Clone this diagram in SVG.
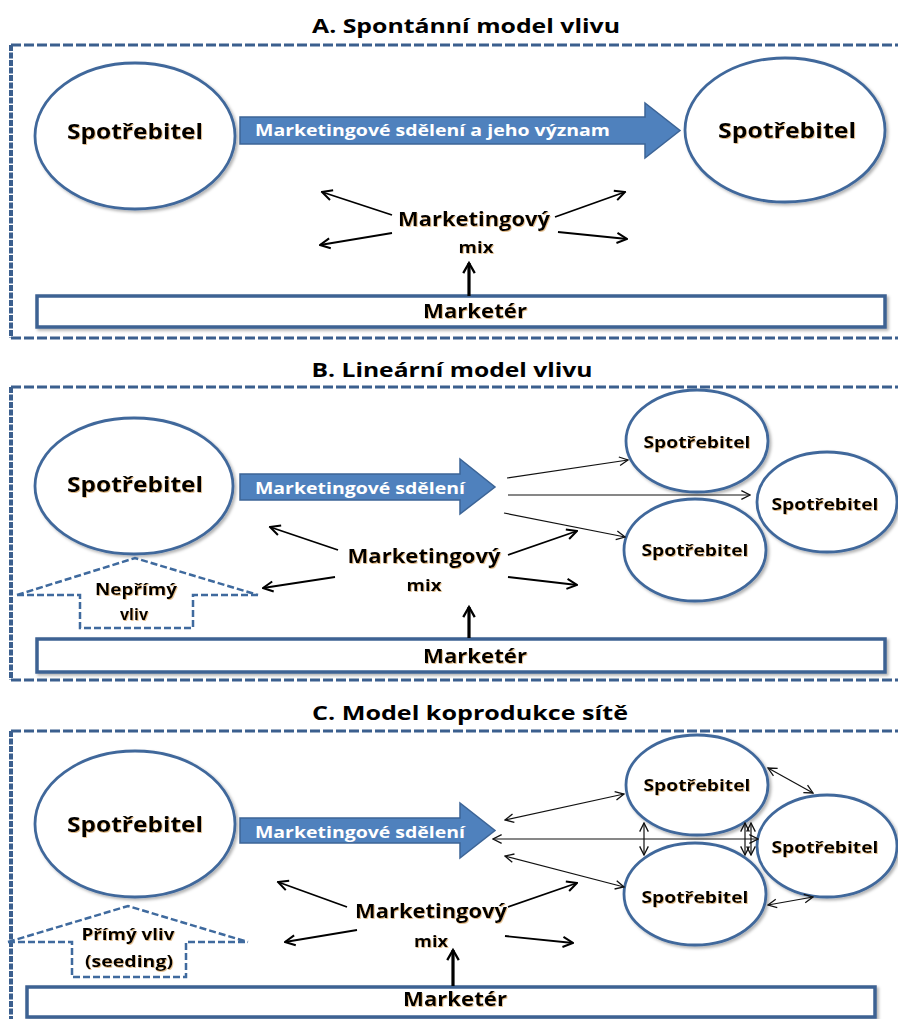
<svg xmlns="http://www.w3.org/2000/svg" width="898" height="1019" viewBox="0 0 898 1019">
  <defs>
    <style>
      text { font-family: "Open Sans", "Liberation Sans", sans-serif; font-weight: bold; fill: #000; text-anchor: middle; }
      .title { font-size: 20px; }
      .big { font-size: 22px; }
      .small { font-size: 16.5px; }
      .mk { font-size: 20px; }
      .mix { font-size: 16px; }
      .mkt { font-size: 19px; }
      .tag { font-size: 16px; }
      .msg { font-size: 16px; fill: #fff; text-anchor: start; }
      .frame { fill: none; stroke: #3b5f8e; }
      .frame-h { stroke-width: 3; stroke-dasharray: 10 3; }
      .frame-v { stroke-width: 4; stroke-dasharray: 6 1.5; }
      .cons { fill: #fff; stroke: #41689b; stroke-width: 2.8; }
      .bar { fill: #fff; stroke: #3d6293; stroke-width: 3.5; }
      .msgarrow { fill: #4f81bd; stroke: #3c6496; stroke-width: 1.5; }
      .house { fill: none; stroke: #3f6a9e; stroke-width: 2.5; stroke-dasharray: 7 3; }
      .ln { fill: none; stroke: #000; stroke-width: 1.8; }
      .thin { fill: none; stroke: #111; stroke-width: 1.2; }
      .thick { fill: none; stroke: #000; stroke-width: 3.2; }
      .lbl { filter: url(#glow); }
    </style>
    <filter id="soft" x="-10%" y="-10%" width="125%" height="130%">
      <feDropShadow dx="2" dy="2" stdDeviation="1.8" flood-color="#000" flood-opacity="0.3"/>
    </filter>
    <filter id="glow" x="-5%" y="-20%" width="110%" height="150%">
      <feDropShadow dx="0.8" dy="1" stdDeviation="0.7" flood-color="#c8862e" flood-opacity="0.55"/>
    </filter>
    <marker id="v" viewBox="0 0 10 10" refX="9" refY="5" markerWidth="7" markerHeight="7" orient="auto-start-reverse" markerUnits="strokeWidth">
      <path d="M1,1 L9,5 L1,9" fill="none" stroke="#000" stroke-width="1.6"/>
    </marker>
    <marker id="vt" viewBox="0 0 10 10" refX="9" refY="5" markerWidth="9" markerHeight="9" orient="auto-start-reverse" markerUnits="strokeWidth">
      <path d="M1,1 L9,5 L1,9" fill="none" stroke="#111" stroke-width="1.2"/>
    </marker>
    <marker id="vb" viewBox="0 0 10 10" refX="8" refY="5" markerWidth="4.5" markerHeight="4.5" orient="auto" markerUnits="strokeWidth">
      <path d="M1,1 L8,5 L1,9" fill="none" stroke="#000" stroke-width="1.6"/>
    </marker>
  </defs>

  <rect width="898" height="1019" fill="#fff"/>

  <!-- ===== A ===== -->
  <g id="panel-a">
    <text class="title" x="466" y="33" textLength="308" lengthAdjust="spacingAndGlyphs">A. Spontánní model vlivu</text>
    <path class="frame frame-h" d="M11,45 H905 M11,338 H905"/>
    <path class="frame frame-v" d="M11,45 V338"/>
  </g>
  <g id="a-consumer-left">
    <ellipse class="cons" cx="135" cy="136" rx="100" ry="73" filter="url(#soft)"/>
    <text class="big lbl" x="135" y="139" textLength="136" lengthAdjust="spacingAndGlyphs">Spotřebitel</text>
  </g>
  <g id="a-consumer-right">
    <ellipse class="cons" cx="785" cy="130" rx="100" ry="72" filter="url(#soft)"/>
    <text class="big lbl" x="787" y="138" textLength="138" lengthAdjust="spacingAndGlyphs">Spotřebitel</text>
  </g>
  <g id="a-message">
    <path class="msgarrow" d="M240,117 H645 V103 L680,130.5 L645,158 V144 H240 Z"/>
    <text class="msg" x="255" y="136" textLength="355" lengthAdjust="spacingAndGlyphs">Marketingové sdělení a jeho význam</text>
  </g>
  <g id="a-mix">
    <text class="mk lbl" x="474" y="226" textLength="152" lengthAdjust="spacingAndGlyphs">Marketingový</text>
    <text class="mix lbl" x="476" y="253" textLength="35" lengthAdjust="spacingAndGlyphs">mix</text>
  </g>
  <g id="a-marketer">
    <rect class="bar" x="37" y="296" width="848" height="31" filter="url(#soft)"/>
    <text class="mkt lbl" x="475" y="318" textLength="104" lengthAdjust="spacingAndGlyphs">Marketér</text>
  </g>

  <!-- ===== B ===== -->
  <g id="panel-b">
    <text class="title" x="452" y="377" textLength="281" lengthAdjust="spacingAndGlyphs">B. Lineární model vlivu</text>
    <path class="frame frame-h" d="M11,387 H905 M11,680 H905"/>
    <path class="frame frame-v" d="M11,387 V680"/>
  </g>
  <g id="b-consumer-left">
    <ellipse class="cons" cx="134" cy="486" rx="99" ry="68" filter="url(#soft)"/>
    <text class="big lbl" x="135" y="492" textLength="136" lengthAdjust="spacingAndGlyphs">Spotřebitel</text>
  </g>
  <g id="b-consumer-1">
    <ellipse class="cons" cx="697" cy="441" rx="71" ry="51" filter="url(#soft)"/>
    <text class="small lbl" x="697" y="448" textLength="107" lengthAdjust="spacingAndGlyphs">Spotřebitel</text>
  </g>
  <g id="b-consumer-2">
    <ellipse class="cons" cx="827" cy="502" rx="70" ry="50" filter="url(#soft)"/>
    <text class="small lbl" x="825" y="510" textLength="107" lengthAdjust="spacingAndGlyphs">Spotřebitel</text>
  </g>
  <g id="b-consumer-3">
    <ellipse class="cons" cx="695" cy="550" rx="71" ry="51" filter="url(#soft)"/>
    <text class="small lbl" x="695" y="556" textLength="107" lengthAdjust="spacingAndGlyphs">Spotřebitel</text>
  </g>
  <g id="b-message">
    <path class="msgarrow" d="M240,474 H460 V459 L495,487 L460,514 V500 H240 Z"/>
    <text class="msg" x="255" y="494" textLength="210" lengthAdjust="spacingAndGlyphs">Marketingové sdělení</text>
  </g>
  <g id="b-influence">
    <path class="house" d="M17,595 L135,558 L258,595 M17,595 H80 V628 H193 V595 H258"/>
    <text class="tag lbl" x="136" y="595" textLength="82" lengthAdjust="spacingAndGlyphs">Nepřímý</text>
    <text class="tag lbl" x="134" y="620">vliv</text>
  </g>
  <g id="b-mix">
    <text class="mk lbl" x="424" y="563" textLength="153" lengthAdjust="spacingAndGlyphs">Marketingový</text>
    <text class="mix lbl" x="424" y="591" textLength="35" lengthAdjust="spacingAndGlyphs">mix</text>
  </g>
  <g id="b-marketer">
    <rect class="bar" x="37" y="639" width="848" height="33" filter="url(#soft)"/>
    <text class="mkt lbl" x="475" y="663" textLength="104" lengthAdjust="spacingAndGlyphs">Marketér</text>
  </g>

  <!-- ===== C ===== -->
  <g id="panel-c">
    <text class="title" x="470" y="720" textLength="316" lengthAdjust="spacingAndGlyphs">C. Model koprodukce sítě</text>
    <path class="frame frame-h" d="M11,731 H905"/>
    <path class="frame frame-v" d="M11,731 V1030"/>
  </g>
  <g id="c-consumer-left">
    <ellipse class="cons" cx="135" cy="824" rx="100" ry="73" filter="url(#soft)"/>
    <text class="big lbl" x="135" y="832" textLength="136" lengthAdjust="spacingAndGlyphs">Spotřebitel</text>
  </g>
  <g id="c-consumer-1">
    <ellipse class="cons" cx="697" cy="785" rx="71" ry="50" filter="url(#soft)"/>
    <text class="small lbl" x="697" y="791" textLength="107" lengthAdjust="spacingAndGlyphs">Spotřebitel</text>
  </g>
  <g id="c-consumer-2">
    <ellipse class="cons" cx="827" cy="846" rx="70" ry="51" filter="url(#soft)"/>
    <text class="small lbl" x="825" y="853" textLength="107" lengthAdjust="spacingAndGlyphs">Spotřebitel</text>
  </g>
  <g id="c-consumer-3">
    <ellipse class="cons" cx="695" cy="894" rx="71" ry="51" filter="url(#soft)"/>
    <text class="small lbl" x="695" y="903" textLength="107" lengthAdjust="spacingAndGlyphs">Spotřebitel</text>
  </g>
  <g id="c-message">
    <path class="msgarrow" d="M240,818 H460 V803 L495,830.5 L460,858 V843 H240 Z"/>
    <text class="msg" x="255" y="838" textLength="210" lengthAdjust="spacingAndGlyphs">Marketingové sdělení</text>
  </g>
  <g id="c-influence">
    <path class="house" d="M8,942 L128,906 L248,942 M8,942 H72 V977 H186 V942 H248"/>
    <text class="tag lbl" x="128" y="940" textLength="93" lengthAdjust="spacingAndGlyphs">Přímý vliv</text>
    <text class="tag lbl" x="129" y="967" textLength="88" lengthAdjust="spacingAndGlyphs">(seeding)</text>
  </g>
  <g id="c-mix">
    <text class="mk lbl" x="431" y="918" textLength="152" lengthAdjust="spacingAndGlyphs">Marketingový</text>
    <text class="mix lbl" x="431" y="947" textLength="34" lengthAdjust="spacingAndGlyphs">mix</text>
  </g>
  <g id="c-marketer">
    <rect class="bar" x="27" y="987" width="848" height="30" filter="url(#soft)"/>
    <text class="mkt lbl" x="455" y="1006" textLength="104" lengthAdjust="spacingAndGlyphs">Marketér</text>
  </g>

  <!-- ===== connectors ===== -->
  <g id="connectors">
    <!-- A: marketing mix -->
    <line class="ln" x1="392" y1="215" x2="322" y2="192" marker-end="url(#v)"/>
    <line class="ln" x1="392" y1="233" x2="320" y2="245" marker-end="url(#v)"/>
    <line class="ln" x1="555" y1="217" x2="625" y2="192" marker-end="url(#v)"/>
    <line class="ln" x1="558" y1="232" x2="627" y2="239" marker-end="url(#v)"/>
    <line class="thick" x1="469" y1="296" x2="469" y2="263" marker-end="url(#vb)"/>

    <!-- B: marketing mix -->
    <line class="ln" x1="338" y1="550" x2="270" y2="527" marker-end="url(#v)"/>
    <line class="ln" x1="335" y1="577" x2="263" y2="588" marker-end="url(#v)"/>
    <line class="ln" x1="508" y1="555" x2="577" y2="531" marker-end="url(#v)"/>
    <line class="ln" x1="508" y1="577" x2="577" y2="585" marker-end="url(#v)"/>
    <line class="thick" x1="469" y1="638" x2="469" y2="607" marker-end="url(#vb)"/>
    <!-- B: message spread -->
    <line class="thin" x1="507" y1="478" x2="628" y2="460" marker-end="url(#vt)"/>
    <line class="thin" x1="508" y1="495" x2="750" y2="495" marker-end="url(#vt)"/>
    <line class="thin" x1="504" y1="513" x2="625" y2="537" marker-end="url(#vt)"/>

    <!-- C: marketing mix -->
    <line class="ln" x1="347" y1="907" x2="278" y2="882" marker-end="url(#v)"/>
    <line class="ln" x1="357" y1="930" x2="285" y2="942" marker-end="url(#v)"/>
    <line class="ln" x1="508" y1="907" x2="577" y2="883" marker-end="url(#v)"/>
    <line class="ln" x1="505" y1="936" x2="573" y2="943" marker-end="url(#v)"/>
    <line class="thick" x1="453" y1="986" x2="453" y2="950" marker-end="url(#vb)"/>
    <!-- C: network exchange -->
    <line class="thin" x1="505" y1="820" x2="624" y2="794" marker-start="url(#vt)" marker-end="url(#vt)"/>
    <line class="thin" x1="493" y1="839" x2="758" y2="839" marker-start="url(#vt)" marker-end="url(#vt)"/>
    <line class="thin" x1="505" y1="856" x2="624" y2="887" marker-start="url(#vt)" marker-end="url(#vt)"/>
    <line class="thin" x1="644" y1="823" x2="644" y2="855" marker-start="url(#vt)" marker-end="url(#vt)"/>
    <line class="thin" x1="745" y1="823" x2="745" y2="855" marker-start="url(#vt)" marker-end="url(#vt)"/>
    <line class="thin" x1="751" y1="823" x2="751" y2="855" marker-start="url(#vt)" marker-end="url(#vt)"/>
    <line class="thin" x1="768" y1="768" x2="813" y2="793" marker-start="url(#vt)" marker-end="url(#vt)"/>
    <line class="thin" x1="768" y1="905" x2="813" y2="897" marker-start="url(#vt)" marker-end="url(#vt)"/>
  </g>
</svg>
